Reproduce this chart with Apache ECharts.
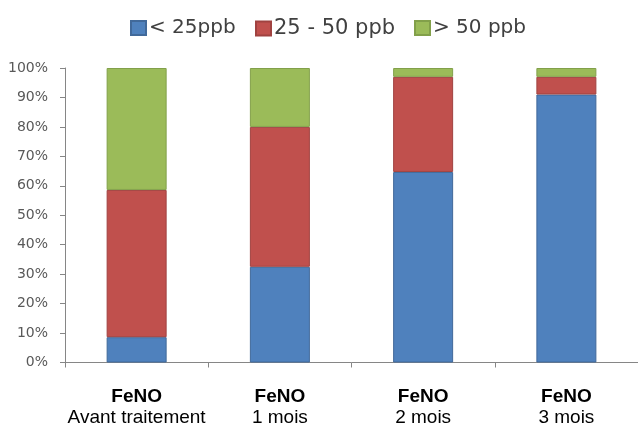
<!DOCTYPE html>
<html>
<head>
<meta charset="utf-8">
<script src="https://cdn.jsdelivr.net/npm/echarts@6/dist/echarts.min.js"></script>
<style>
html,body{margin:0;padding:0;background:#fff;}
#chart{width:638px;height:430px;}
</style>
</head>
<body>
<div id="chart"></div>
<script>
const categories = ['Avant traitement', '1 mois', '2 mois', '3 mois'];
const categoryPrefix = 'FeNO';
const seriesNames = ['< 25ppb', '25 - 50 ppb', '> 50 ppb'];
const lowValues = [8.6, 32.5, 64.7, 91];
const midValues = [50, 47.5, 32.3, 6];
const highValues = [41.4, 20, 3, 3];
const yTicks = [0, 10, 20, 30, 40, 50, 60, 70, 80, 90, 100];

const colors = ['#4F81BD', '#C0504D', '#9BBB59'];
const borders = ['#41699A', '#A04240', '#82A04A'];
const legendLefts = [130, 255, 414];

const chart = echarts.init(document.getElementById('chart'), null, {renderer: 'canvas'});

function mk(name, data, i) {
  return {
    name: name,
    type: 'bar',
    stack: 'total',
    data: data,
    barWidth: 60,
    itemStyle: {color: colors[i], borderColor: borders[i], borderWidth: 1},
    emphasis: {disabled: true}
  };
}

chart.setOption({
  animation: false,
  backgroundColor: '#fff',
  color: colors,
  legend: seriesNames.map(function (n, i) {
    return {
      top: 18,
      left: legendLefts[i],
      padding: 0,
      itemWidth: 15,
      itemHeight: 14,
      icon: 'rect',
      textStyle: {fontFamily: 'DejaVu Sans', fontSize: i === 1 ? 21 : 20, color: '#404040', padding: [0, 0, 0, -2]},
      data: [n]
    };
  }),
  grid: {left: 65, right: -4, top: 68, bottom: 67.5, containLabel: false},
  xAxis: {
    type: 'category',
    data: categories,
    axisLine: {show: true, lineStyle: {color: '#868686', width: 1}},
    axisTick: {show: true, length: 5, lineStyle: {color: '#868686'}},
    axisLabel: {
      margin: 24,
      interval: 0,
      formatter: function (v) { return '{b|' + categoryPrefix + '}\n{n|' + v + '}'; },
      rich: {
        b: {fontFamily: 'Liberation Sans', fontWeight: 'bold', fontSize: 19, lineHeight: 21, color: '#000'},
        n: {fontFamily: 'Liberation Sans', fontSize: 19, lineHeight: 21, color: '#000'}
      }
    }
  },
  yAxis: {
    type: 'value',
    min: yTicks[0],
    max: yTicks[yTicks.length - 1],
    interval: yTicks[1] - yTicks[0],
    splitLine: {show: false},
    axisLine: {show: true, lineStyle: {color: '#868686', width: 1}},
    axisTick: {show: true, length: 5, lineStyle: {color: '#868686'}},
    axisLabel: {
      formatter: '{value}%',
      margin: 17,
      fontFamily: 'DejaVu Sans',
      fontSize: 14,
      color: '#595959'
    }
  },
  series: [
    mk(seriesNames[0], lowValues, 0),
    mk(seriesNames[1], midValues, 1),
    mk(seriesNames[2], highValues, 2)
  ]
});
</script>
</body>
</html>
